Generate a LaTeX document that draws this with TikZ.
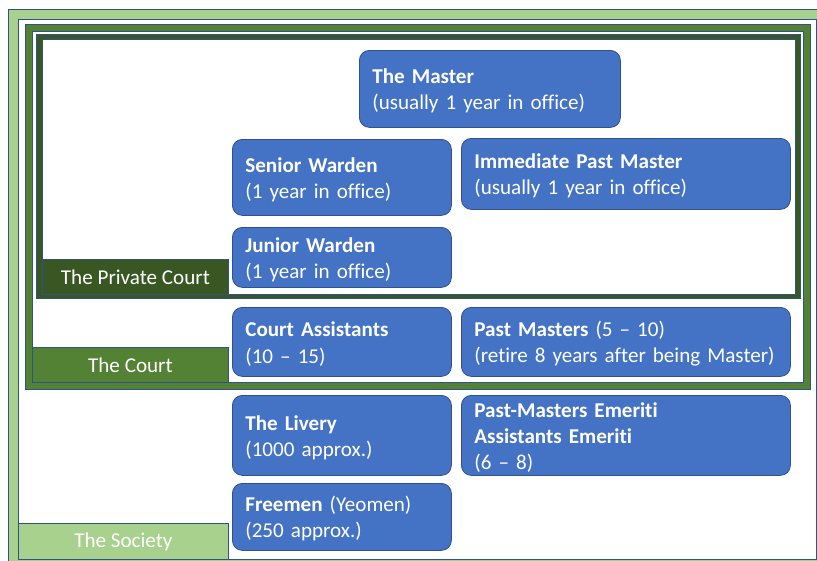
\documentclass[tikz,border=0pt]{standalone}
\usepackage{fontspec}
\setmainfont{Carlito}[Ligatures=NoCommon]
\definecolor{socgreen}{HTML}{A9D18E}
\definecolor{courtgreen}{HTML}{548235}
\definecolor{privgreen}{HTML}{385723}
\definecolor{boxblue}{HTML}{4472C4}
\definecolor{edgeblue}{HTML}{2F528F}
\tikzset{
  edge/.style={draw=edgeblue, line width=0.7pt},
  box/.style={rounded corners=10pt, fill=boxblue, draw=edgeblue, line width=0.8pt,
    text=white, align=left, inner xsep=13pt, inner ysep=0pt, anchor=north west,
    font=\fontsize{21.1}{26.3}\selectfont,
    execute at begin node={\rule{0pt}{19pt}}},
  lbl/.style={draw=edgeblue, line width=0.8pt, text=white, anchor=north west,
    inner sep=0pt, font=\fontsize{21.1}{26.3}\selectfont}
}
\begin{document}
\begin{tikzpicture}[x=1pt,y=-1pt]
\useasboundingbox (0,0) rectangle (817,560);
\begin{scope}
\clip (0,0) rectangle (817,560);
% The Society frame
\draw[edge, fill=socgreen] (8,9) rectangle (830,575);
\draw[edge, fill=white] (18,19) rectangle (816,559);
% The Court frame
\draw[edge, fill=courtgreen] (25,24) rectangle (810,389);
\draw[edge, fill=white] (32,31) rectangle (803,382);
% The Private Court frame
\draw[edge, fill=privgreen] (36,34) rectangle (800,298);
\draw[edge, fill=white] (42,39) rectangle (795,294);
\end{scope}
% labels
\node[lbl, fill=privgreen, minimum width=186pt, minimum height=35pt] (privlbl) at (42,259) {The Private Court};
\node[lbl, fill=courtgreen, minimum width=196pt, minimum height=35pt] (courtlbl) at (32,347) {The Court};
\node[lbl, fill=socgreen, minimum width=210pt, minimum height=36pt] (soclbl) at (18,523) {The Society};
% boxes
\node[box, text width=235pt, minimum height=77pt] (master) at (359,50)
  {\textbf{The Master}\\(usually 1 year in office)};
\node[box, text width=193pt, minimum height=76pt] (senior) at (232,139)
  {\textbf{Senior Warden}\\(1 year in office)};
\node[box, text width=303pt, minimum height=71pt] (ipm) at (461,138)
  {\textbf{Immediate Past Master}\\(usually 1 year in office)};
\node[box, text width=193pt, minimum height=60pt] (junior) at (232,227)
  {\textbf{Junior Warden}\\(1 year in office)};
\node[box, text width=193pt, minimum height=69pt] (assist) at (232,307)
  {\textbf{Court Assistants}\\(10 – 15)};
\node[box, text width=303pt, minimum height=69pt] (pastm) at (461,307)
  {\textbf{Past Masters} (5 – 10)\\\mbox{(retire 8 years after being Master)}};
\node[box, text width=193pt, minimum height=80pt] (livery) at (232,395)
  {\textbf{The Livery}\\(1000 approx.)};
\node[box, text width=303pt, minimum height=80pt] (emeriti) at (461,395)
  {\textbf{Past-Masters Emeriti}\\\textbf{Assistants Emeriti}\\(6 – 8)};
\node[box, text width=193pt, minimum height=67pt] (freemen) at (232,483)
  {\textbf{Freemen} (Yeomen)\\(250 approx.)};
\end{tikzpicture}
\end{document}
